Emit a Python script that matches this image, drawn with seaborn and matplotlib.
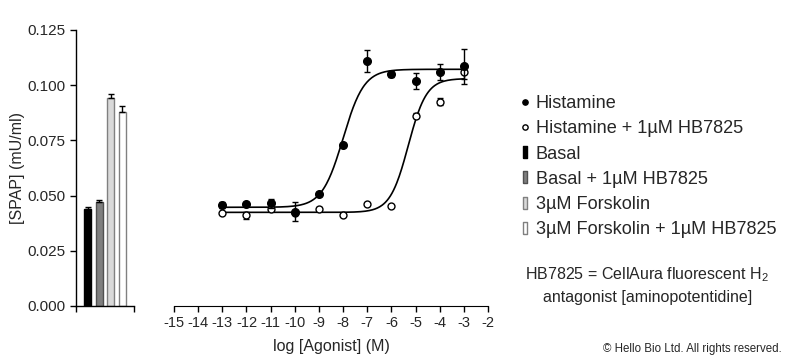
import numpy as np
import pandas as pd
import matplotlib
matplotlib.use("Agg")
import matplotlib.pyplot as plt
from matplotlib.lines import Line2D
import seaborn as sns

sns.set_style("ticks")
plt.rcParams['font.family'] = ['Liberation Sans', 'DejaVu Sans']
plt.rcParams['mathtext.fontset'] = 'custom'
plt.rcParams['mathtext.rm'] = 'Liberation Sans'

# ---- data ----
log_conc = [-13, -12, -11, -10, -9, -8, -7, -6, -5, -4, -3]
hist = [0.0458, 0.0462, 0.0465, 0.0427, 0.0506, 0.0729, 0.1110, 0.1050, 0.1018, 0.1059, 0.1085]
hist_err = [0.0015, 0.0008, 0.0020, 0.0042, 0.0008, 0.0008, 0.0049, 0.0015, 0.0035, 0.0035, 0.0080]
hist_hb = [0.0420, 0.0410, 0.0438, 0.0423, 0.0438, 0.0414, 0.0462, 0.0452, 0.0862, 0.0925, 0.1060]
hist_hb_err = [0.0005, 0.0015, 0.0005, 0.0005, 0.0010, 0.0005, 0.0005, 0.0005, 0.0012, 0.0015, 0.0030]

# 4-parameter logistic fits (bottom, top, logEC50, hill)
fit_hist = (0.0447, 0.1072, -8.0, 1.0)
fit_hist_hb = (0.0424, 0.1030, -5.3, 1.15)

bar_labels = ["Basal", "Basal + 1µM HB7825", "3µM Forskolin", "3µM Forskolin + 1µM HB7825"]
bar_values = [0.0439, 0.0470, 0.0944, 0.0879]
bar_err = [0.0010, 0.0010, 0.0015, 0.0025]
bar_colors = ["#000000", "#7f7f7f", "#d9d9d9", "#ffffff"]
bar_edges = ["#000000", "#505050", "#808080", "#808080"]

def logistic(x, p):
    bottom, top, ec50, hill = p
    return bottom + (top - bottom) / (1 + 10 ** ((ec50 - x) * hill))

fig = plt.figure(figsize=(8, 3.61), dpi=100)
ax_bar = fig.add_axes([0.095, 0.1524, 0.0725, 0.7645])
ax = fig.add_axes([0.2175, 0.1524, 0.3925, 0.7645])

# ---- bar panel ----
df_bar = pd.DataFrame({"cond": bar_labels, "val": bar_values})
sns.barplot(data=df_bar, x="cond", y="val", hue="cond", palette=bar_colors,
            width=0.6, ax=ax_bar, legend=False, errorbar=None)
for patch, ec in zip(ax_bar.patches, bar_edges):
    patch.set_edgecolor(ec)
    patch.set_linewidth(1.0)
ax_bar.errorbar(range(len(bar_values)), bar_values,
                yerr=[np.zeros(len(bar_err)), bar_err],
                fmt="none", ecolor="black", elinewidth=1.0, capsize=2.5, capthick=1.0)
ax_bar.set_xlim(-0.99, 3.99)
ax_bar.set_ylim(0, 0.125)
ax_bar.set_yticks([0, 0.025, 0.05, 0.075, 0.1, 0.125])
ax_bar.set_yticklabels(["0.000", "0.025", "0.050", "0.075", "0.100", "0.125"], fontsize=11)
ax_bar.set_xticks([-0.99, 3.99])
ax_bar.set_xticklabels([])
ax_bar.set_xlabel("")
ax_bar.set_ylabel("[SPAP] (mU/ml)", fontsize=11.5, labelpad=2)
ax_bar.spines[["top", "right"]].set_visible(False)
ax_bar.tick_params(length=4, width=1, color="black")
for s in ["left", "bottom"]:
    ax_bar.spines[s].set_color("black")
    ax_bar.spines[s].set_linewidth(1.0)

# ---- dose-response panel ----
xs = np.linspace(-13, -3, 300)
curves = pd.DataFrame({
    "x": np.concatenate([xs, xs]),
    "y": np.concatenate([logistic(xs, fit_hist), logistic(xs, fit_hist_hb)]),
    "series": ["Histamine"] * len(xs) + ["Histamine + 1µM HB7825"] * len(xs),
})
sns.lineplot(data=curves, x="x", y="y", units="series", estimator=None,
             color="black", linewidth=1.2, ax=ax, legend=False)

ax.errorbar(log_conc, hist_hb, yerr=hist_hb_err, fmt="o", color="black",
            mfc="white", mec="black", ms=5, mew=1.0, elinewidth=1.0, capsize=2.5, capthick=1.0, zorder=3)
ax.errorbar(log_conc, hist, yerr=hist_err, fmt="o", color="black",
            mfc="black", mec="black", ms=5.5, elinewidth=1.0, capsize=2.5, capthick=1.0, zorder=4)

ax.set_xlim(-15, -2)
ax.set_ylim(0, 0.125)
ax.set_xticks(range(-15, -1))
ax.set_xticklabels([str(v) for v in range(-15, -1)], fontsize=10.5)
ax.set_yticks([])
ax.set_xlabel("log [Agonist] (M)", fontsize=11.5, labelpad=6)
ax.set_ylabel("")
ax.spines[["top", "right", "left"]].set_visible(False)
ax.spines["bottom"].set_color("black")
ax.tick_params(axis="x", length=4, width=1, color="black")

# ---- legend ----
bar_marker = [(-0.28, -1), (0.28, -1), (0.28, 1), (-0.28, 1), (-0.28, -1)]
handles = [
    Line2D([], [], ls="none", marker="o", mfc="black", mec="black", ms=3.8),
    Line2D([], [], ls="none", marker="o", mfc="white", mec="black", ms=3.8),
]
for fc, ec in zip(bar_colors, bar_edges):
    handles.append(Line2D([], [], ls="none", marker=bar_marker, mfc=fc, mec=ec, ms=8.5, mew=1.0))
labels = ["Histamine", "Histamine + 1µM HB7825"] + bar_labels
fig.legend(handles, labels, loc="upper left", bbox_to_anchor=(0.638, 0.762),
           frameon=False, fontsize=13.1, handlelength=0.6, handletextpad=0.3,
           labelspacing=0.455, borderpad=0)

fig.text(0.809, 0.21, "HB7825 = CellAura fluorescent H$_{\\mathregular{2}}$\nantagonist [aminopotentidine]",
         ha="center", va="center", fontsize=11.5, linespacing=1.45)
fig.text(0.9775, 0.033, "© Hello Bio Ltd. All rights reserved.", ha="right", va="center", fontsize=8.3)

fig.savefig("out.png", dpi=100)
